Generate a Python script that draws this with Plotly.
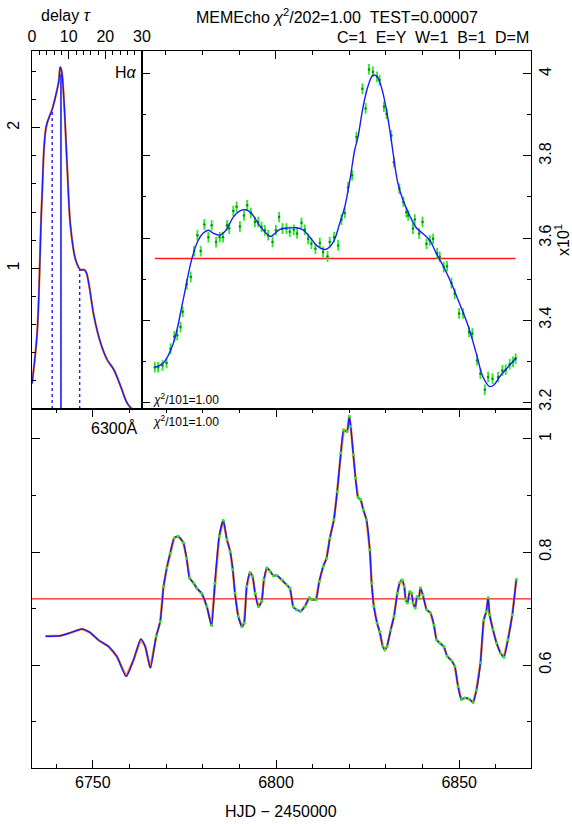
import plotly.graph_objects as go

# ---------------- data ----------------
# delay map (transfer function) for H-alpha
delay_tau = [0.0, 1.4, 2.7, 3.9, 5.5, 6.4, 7.3, 7.7, 8.1, 8.7, 9.6, 10.5, 11.9, 13.2, 14.2, 14.8, 15.5, 16.9, 18.7, 20.5, 22.3, 24.2, 26.0, 27.4, 29.7]
delay_psi = [0.18, 0.54, 1.49, 2.01, 2.13, 2.22, 2.33, 2.43, 2.40, 2.20, 1.72, 1.30, 1.06, 0.99, 0.99, 0.97, 0.89, 0.66, 0.47, 0.35, 0.28, 0.16, 0.04, 0.0, 0.0]
delay_median = 7.9
delay_median_psi = 2.38
delay_quartiles = [5.5, 13.0]
delay_quartiles_psi = [2.12, 0.99]

# H-alpha light curve (units of 10^1)
ha_hjd = [6767.0, 6767.9, 6769.1, 6770.2, 6771.3, 6772.3, 6773.1, 6774.0, 6774.6, 6775.7, 6776.8, 6777.7,
          6778.6, 6779.5, 6780.5, 6781.6, 6782.5, 6783.7, 6784.7, 6785.6, 6786.7, 6787.3, 6788.4, 6789.3,
          6790.2, 6791.3, 6792.2, 6793.2, 6794.3, 6795.2, 6796.1, 6797.0, 6797.9, 6799.1, 6800.0, 6800.9,
          6801.8, 6802.9, 6803.8, 6804.9, 6805.8, 6807.0, 6807.9, 6808.8, 6809.7, 6810.8, 6812.0, 6812.9,
          6814.1, 6814.7, 6815.9, 6817.0, 6817.9, 6818.8, 6819.7, 6820.8, 6822.0, 6823.6, 6824.5, 6825.4,
          6826.5, 6827.6, 6828.3, 6829.5, 6830.2, 6831.5, 6832.2, 6833.7, 6834.8, 6835.6, 6836.1, 6837.4,
          6837.9, 6839.1, 6840.0, 6841.1, 6842.0, 6842.9, 6844.0, 6844.7, 6845.8, 6846.7, 6847.9, 6848.8,
          6850.0, 6851.1, 6852.7, 6853.6, 6854.9, 6855.8, 6857.0, 6857.9, 6859.1, 6860.6, 6861.8, 6862.7,
          6863.8, 6864.7, 6865.4]
ha_flux = [3.285, 3.285, 3.289, 3.295, 3.330, 3.360, 3.363, 3.383, 3.420, 3.487, 3.505, 3.568,
           3.607, 3.568, 3.633, 3.602, 3.631, 3.590, 3.602, 3.602, 3.631, 3.623, 3.666, 3.676,
           3.628, 3.655, 3.680, 3.661, 3.639, 3.639, 3.627, 3.619, 3.607, 3.590, 3.619, 3.651,
           3.623, 3.623, 3.615, 3.620, 3.611, 3.637, 3.620, 3.598, 3.586, 3.574, 3.588, 3.566,
           3.555, 3.590, 3.602, 3.582, 3.645, 3.661, 3.724, 3.753, 3.846, 3.964, 3.916, 4.011,
           4.005, 3.993, 3.985, 3.920, 3.903, 3.850, 3.785, 3.720, 3.688, 3.663, 3.655, 3.623,
           3.645, 3.611, 3.639, 3.586, 3.594, 3.598, 3.563, 3.554, 3.529, 3.531, 3.490, 3.464,
           3.416, 3.416, 3.371, 3.367, 3.302, 3.269, 3.230, 3.261, 3.257, 3.261, 3.277, 3.279,
           3.292, 3.298, 3.306]
ha_err = 0.013
ha_model_hjd = [6767.0, 6769.3, 6772.0, 6774.7, 6777.0, 6778.8, 6780.2, 6781.6, 6782.9, 6784.7, 6786.4, 6788.4,
                6790.2, 6791.8, 6793.4, 6795.2, 6797.0, 6798.6, 6799.7, 6801.1, 6802.9, 6805.6, 6807.4, 6809.3,
                6811.1, 6813.4, 6814.7, 6816.1, 6817.4, 6818.8, 6820.2, 6821.5, 6822.4, 6823.8, 6825.2, 6826.5,
                6827.6, 6828.8, 6830.2, 6831.5, 6832.0, 6833.3, 6834.7, 6836.5, 6838.3, 6840.1, 6842.0, 6843.8,
                6845.6, 6847.9, 6850.1, 6852.4, 6854.7, 6856.5, 6858.3, 6859.4, 6861.0, 6862.9, 6865.6]
ha_model = [3.285, 3.295, 3.342, 3.448, 3.546, 3.594, 3.612, 3.619, 3.612, 3.607, 3.619, 3.651,
            3.666, 3.669, 3.660, 3.635, 3.615, 3.604, 3.611, 3.621, 3.624, 3.625, 3.620, 3.602,
            3.582, 3.572, 3.578, 3.598, 3.635, 3.676, 3.741, 3.814, 3.846, 3.920, 3.972, 3.997,
            3.994, 3.968, 3.911, 3.838, 3.806, 3.733, 3.692, 3.655, 3.625, 3.611, 3.594, 3.562,
            3.533, 3.489, 3.440, 3.387, 3.318, 3.261, 3.238, 3.241, 3.261, 3.281, 3.308]
ha_mean = 3.55

# continuum light curve (6300 A)
cont_hjd = [6737.1, 6741.1, 6743.8, 6747.0, 6749.2, 6751.6, 6754.3, 6756.6, 6759.1, 6761.1, 6763.1, 6764.3,
            6765.7, 6767.3, 6768.4, 6769.3, 6770.2, 6771.1, 6772.2, 6773.3, 6774.7, 6775.6, 6776.4, 6777.5,
            6778.4, 6779.7, 6781.1, 6782.4, 6783.3, 6784.5, 6785.6, 6786.6, 6787.5, 6788.2, 6788.8, 6789.7,
            6790.7, 6791.3, 6792.0, 6792.9, 6793.6, 6794.3, 6795.2, 6796.1, 6796.7, 6797.5, 6798.4, 6799.3,
            6800.2, 6801.6, 6802.9, 6803.8, 6804.7, 6805.6, 6806.7, 6807.9, 6809.1, 6809.7, 6810.9, 6811.8,
            6812.9, 6813.8, 6814.7, 6815.8, 6816.7, 6817.7, 6818.5, 6819.4, 6820.0, 6820.4, 6821.1, 6821.7,
            6822.4, 6823.1, 6823.8, 6824.7, 6825.6, 6826.1, 6826.7, 6827.6, 6828.3, 6829.1, 6829.7, 6830.3,
            6831.3, 6832.2, 6833.1, 6833.8, 6834.4, 6835.0, 6835.4, 6835.9, 6836.5, 6837.0, 6837.4, 6838.0,
            6838.5, 6839.0, 6839.4, 6840.1, 6841.1, 6842.2, 6843.1, 6843.8, 6844.7, 6845.8, 6846.7, 6847.9,
            6848.8, 6849.7, 6850.6, 6851.5, 6852.7, 6853.8, 6854.7, 6855.8, 6856.7, 6857.4, 6857.9, 6858.3,
            6859.2, 6860.2, 6861.3, 6862.2, 6863.3, 6864.5, 6865.6]
cont_flux = [0.651, 0.652, 0.657, 0.664, 0.658, 0.644, 0.633, 0.615, 0.580, 0.609, 0.646, 0.633,
             0.595, 0.651, 0.677, 0.739, 0.772, 0.798, 0.825, 0.828, 0.817, 0.789, 0.754, 0.745,
             0.736, 0.727, 0.704, 0.670, 0.745, 0.828, 0.856, 0.822, 0.801, 0.769, 0.727, 0.686,
             0.668, 0.674, 0.739, 0.764, 0.757, 0.727, 0.703, 0.713, 0.751, 0.772, 0.766, 0.758,
             0.759, 0.751, 0.742, 0.736, 0.703, 0.698, 0.695, 0.704, 0.719, 0.716, 0.716, 0.748,
             0.775, 0.789, 0.825, 0.857, 0.907, 0.975, 1.016, 1.013, 1.040, 1.022, 0.972, 0.931,
             0.896, 0.893, 0.875, 0.857, 0.804, 0.745, 0.704, 0.674, 0.659, 0.634, 0.627, 0.633,
             0.662, 0.686, 0.727, 0.746, 0.751, 0.739, 0.716, 0.710, 0.730, 0.727, 0.710, 0.701,
             0.721, 0.719, 0.737, 0.724, 0.698, 0.692, 0.671, 0.645, 0.639, 0.633, 0.616, 0.608,
             0.598, 0.562, 0.539, 0.542, 0.540, 0.534, 0.556, 0.604, 0.680, 0.695, 0.719, 0.689,
             0.663, 0.639, 0.621, 0.614, 0.645, 0.689, 0.752]
cont_data_start = 6767.0
cont_mean = 0.717

# axis ranges and ticks
tau_range = [0, 30]
psi_range = [0, 2.545]
hjd_range = [6733.4, 6869.6]
ha_hjd_range = [6763.5, 6869.6]
ha_range = [3.183, 4.056]
cont_range = [0.418, 1.053]
ha_ticks = [3.2, 3.4, 3.6, 3.8, 4.0]
ha_ticktext = ["3.2", "3.4", "3.6", "3.8", "4"]
cont_ticks = [0.6, 0.8, 1.0]
cont_ticktext = ["0.6", "0.8", "1"]
hjd_ticks = [6750, 6800, 6850]

# ---------------- layout geometry ----------------
W, H = 572, 824
L, R, T, B = 32, 41, 51, 56
PW, PH = W - L - R, H - T - B
split_x = 142
split_y = 409

def px(x):
    return (x - L) / PW

def py(y):
    return (H - B - y) / PH

FONT = "Liberation Sans"
BLUE = "#1a1aff"
ORANGE = "#ff8c1a"
GREEN = "#22ee22"
RED = "#ff1a1a"
FS = 16

fig = go.Figure()

# delay map
fig.add_trace(go.Scatter(x=delay_tau, y=delay_psi, mode="lines", line=dict(color=ORANGE, width=2.2, shape="spline"),
                         xaxis="x", yaxis="y", hoverinfo="skip"))
fig.add_trace(go.Scatter(x=delay_tau, y=delay_psi, mode="lines", line=dict(color=BLUE, width=1.4, shape="spline"),
                         xaxis="x", yaxis="y"))
fig.add_trace(go.Scatter(x=[delay_median, delay_median], y=[0, delay_median_psi], mode="lines",
                         line=dict(color=BLUE, width=1.6), xaxis="x", yaxis="y"))
for t, p in zip(delay_quartiles, delay_quartiles_psi):
    fig.add_trace(go.Scatter(x=[t, t], y=[0, p], mode="lines", line=dict(color=BLUE, width=1.4, dash="dot"),
                             xaxis="x", yaxis="y"))

# H-alpha light curve
fig.add_trace(go.Scatter(x=[ha_hjd[0], ha_hjd[-1]], y=[ha_mean, ha_mean], mode="lines",
                         line=dict(color=RED, width=1.4), xaxis="x2", yaxis="y2"))
fig.add_trace(go.Scatter(x=ha_hjd, y=ha_flux, mode="markers",
                         marker=dict(color="#118811", size=2.5),
                         error_y=dict(type="constant", value=ha_err, color=GREEN, thickness=1.8, width=0),
                         xaxis="x2", yaxis="y2"))
fig.add_trace(go.Scatter(x=ha_model_hjd, y=ha_model, mode="lines", line=dict(color=BLUE, width=1.4, shape="spline"),
                         xaxis="x2", yaxis="y2"))

# continuum light curve
fig.add_trace(go.Scatter(x=[hjd_range[0], hjd_range[1]], y=[cont_mean, cont_mean], mode="lines",
                         line=dict(color=RED, width=1.2), xaxis="x3", yaxis="y3"))
fig.add_trace(go.Scatter(x=cont_hjd, y=cont_flux, mode="lines", line=dict(color=ORANGE, width=2.4),
                         xaxis="x3", yaxis="y3"))
fig.add_trace(go.Scatter(x=cont_hjd, y=cont_flux, mode="lines", line=dict(color=BLUE, width=1.5, shape="spline", smoothing=0.6),
                         xaxis="x3", yaxis="y3"))
gx = [h for h in cont_hjd if h >= cont_data_start]
gy = [f for h, f in zip(cont_hjd, cont_flux) if h >= cont_data_start]
fig.add_trace(go.Scatter(x=gx, y=gy, mode="markers", marker=dict(color=GREEN, size=3),
                         xaxis="x3", yaxis="y3"))

axis_common = dict(showgrid=False, zeroline=False, showline=True, linecolor="black", linewidth=1.2,
                   ticks="inside", tickcolor="black", tickwidth=1, ticklen=8, automargin=False,
                   tickfont=dict(family=FONT, size=FS, color="black"))

fig.update_layout(
    width=W, height=H, showlegend=False,
    margin=dict(l=L, r=R, t=T, b=B, pad=0, autoexpand=False),
    paper_bgcolor="white", plot_bgcolor="white",
    font=dict(family=FONT, size=FS, color="black"),
    xaxis=dict(axis_common, domain=[0, px(split_x)], range=tau_range, side="top", anchor="y",
               tickvals=[0, 10, 20, 30], mirror=True, ticklabelstandoff=2,
               minor=dict(dtick=2, tick0=0, ticks="inside", ticklen=4, tickcolor="black")),
    yaxis=dict(axis_common, domain=[py(split_y), 1], range=psi_range, anchor="x",
               tickvals=[1, 2], tickangle=-90, mirror=True, ticklabelstandoff=6,
               minor=dict(dtick=0.2, tick0=0, ticks="inside", ticklen=4, tickcolor="black")),
    xaxis2=dict(axis_common, domain=[px(split_x), 1], range=ha_hjd_range, side="top", anchor="y2",
                tickvals=hjd_ticks, showticklabels=False, mirror=True,
                minor=dict(dtick=10, tick0=6750, ticks="inside", ticklen=4, tickcolor="black")),
    yaxis2=dict(axis_common, domain=[py(split_y), 1], range=ha_range, side="right", anchor="x2",
                tickvals=ha_ticks, ticktext=ha_ticktext, tickangle=-90, mirror="allticks",
                minor=dict(dtick=0.1, tick0=3.2, ticks="inside", ticklen=4, tickcolor="black")),
    xaxis3=dict(axis_common, domain=[0, 1], range=hjd_range, anchor="y3",
                tickvals=hjd_ticks, mirror="allticks",
                minor=dict(dtick=10, tick0=6750, ticks="inside", ticklen=4, tickcolor="black")),
    yaxis3=dict(axis_common, domain=[0, py(split_y)], range=cont_range, side="right", anchor="x3",
                tickvals=cont_ticks, ticktext=cont_ticktext, tickangle=-90, mirror="allticks",
                minor=dict(dtick=0.1, tick0=0.4, ticks="inside", ticklen=4, tickcolor="black")),
)

def ann(text, x, y, size=FS, xanchor="center", yanchor="middle", angle=0):
    fig.add_annotation(text=text, x=px(x), y=py(y), xref="paper", yref="paper", showarrow=False,
                       xanchor=xanchor, yanchor=yanchor, textangle=angle,
                       font=dict(family=FONT, size=size, color="black"))

ann("delay <i>τ</i>", 66, 15)
ann("MEMEcho <i>χ</i><sup>2</sup>/202=1.00  TEST=0.00007", 337, 16)
ann("C=1  E=Y  W=1  B=1  D=M", 531, 37, xanchor="right")
ann("H<i>α</i>", 139, 72, xanchor="right")
ann("x10<sup>1</sup>", 562, 240, angle=-90)
ann("<i>χ</i><sup>2</sup>/101=1.00", 151, 399, size=12, xanchor="left")
ann("<i>χ</i><sup>2</sup>/101=1.00", 151, 421, size=12, xanchor="left")
ann("6300Å", 114, 428)
ann("HJD − 2450000", 281, 811)

fig.write_html("out.html", config={"displayModeBar": False},
               post_script="document.body.style.margin='0px';document.body.style.overflow='hidden';")
